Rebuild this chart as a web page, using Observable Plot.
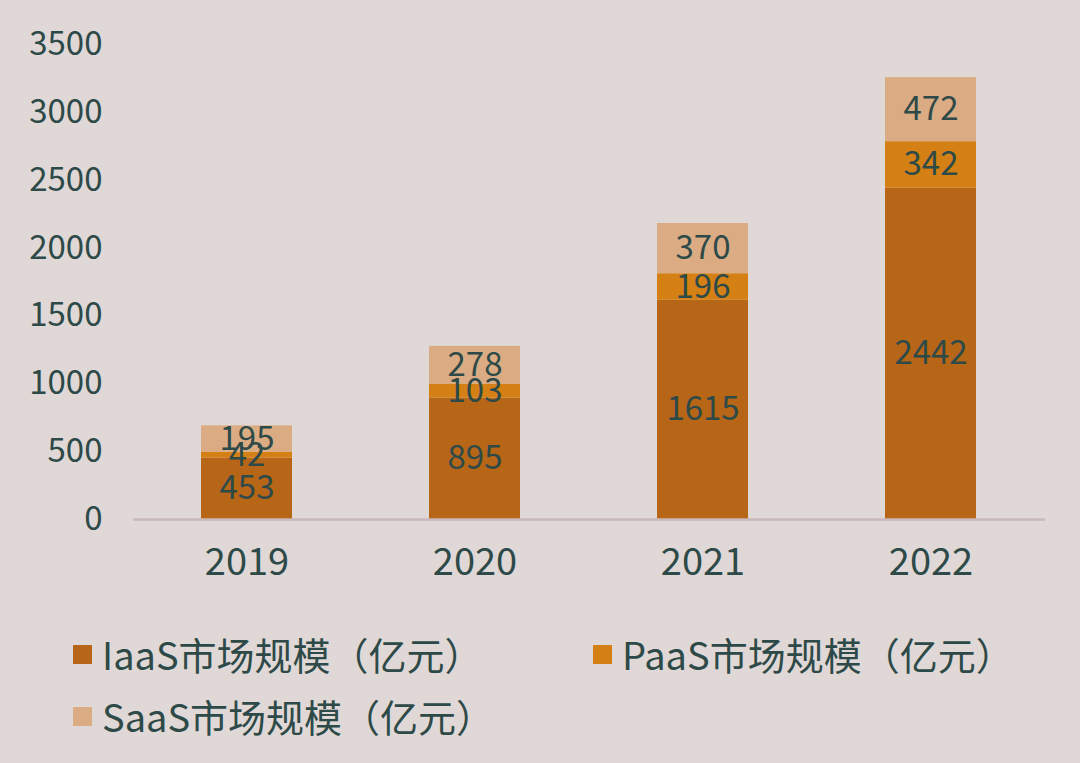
<!DOCTYPE html>
<html>
<head>
<meta charset="utf-8">
<script src="https://cdn.jsdelivr.net/npm/d3@7"></script>
<script src="https://cdn.jsdelivr.net/npm/@observablehq/plot@0.6"></script>
<style>
  html, body { margin: 0; padding: 0; background: #e0d8d6; }
  body { width: 1080px; height: 763px; overflow: hidden; font-family: "Noto Sans CJK SC", "Noto Sans", sans-serif; color: #2e4a48; }
  #chart { position: absolute; left: 0; top: 0; }
  #legend { position: absolute; left: 0; top: 600px; width: 1080px; }
  .item { position: absolute; display: flex; align-items: center; font-size: 38px; line-height: 1; white-space: nowrap; }
  .sw { width: 19px; height: 19px; margin-right: 10px; flex: none; }
</style>
</head>
<body>
<div id="chart"></div>
<div id="legend"></div>
<script>
const years = ["2019", "2020", "2021", "2022"];
const iaasValues = [453, 895, 1615, 2442];
const paasValues = [42, 103, 196, 342];
const saasValues = [195, 278, 370, 472];
const seriesNames = ["IaaS市场规模（亿元）", "PaaS市场规模（亿元）", "SaaS市场规模（亿元）"];
const seriesColors = ["#b76517", "#d58014", "#dbac84"];
const yTicks = [0, 500, 1000, 1500, 2000, 2500, 3000, 3500];

const seriesValues = [iaasValues, paasValues, saasValues];
const data = [];
seriesNames.forEach((s, i) => {
  years.forEach((y, j) => data.push({year: y, series: s, value: seriesValues[i][j]}));
});

const textColor = "#2e4a48";

const chart = Plot.plot({
  width: 1080,
  height: 600,
  marginTop: 44,
  marginBottom: 81,
  marginLeft: 133,
  marginRight: 35,
  style: {background: "transparent", fontFamily: "'Noto Sans CJK SC', 'Noto Sans', sans-serif", color: textColor},
  x: {domain: years, paddingInner: 0.6, paddingOuter: 0.3, label: null, axis: null},
  y: {domain: [0, 3500], label: null, axis: null},
  color: {domain: seriesNames, range: seriesColors},
  marks: [
    Plot.axisY({ticks: yTicks, tickFormat: d => String(d), tickSize: 0, tickPadding: 31, fontSize: 33, label: null, fill: textColor}),
    Plot.axisX({tickSize: 0, tickPadding: 29, fontSize: 38, label: null, fill: textColor}),
    Plot.barY(data, Plot.stackY({x: "year", y: "value", z: "series", fill: "series", order: seriesNames})),
    Plot.ruleY([0], {stroke: "#c9b9ba", strokeWidth: 2.5}),
    Plot.text(data, Plot.stackY({x: "year", y: "value", z: "series", order: seriesNames, text: d => String(d.value), fill: textColor, fontSize: 33}))
  ]
});
document.getElementById("chart").appendChild(chart);

const legend = document.getElementById("legend");
const positions = [[73, 54], [593, 54], [73, 116]];
seriesNames.forEach((name, i) => {
  const item = document.createElement("div");
  item.className = "item";
  item.style.left = positions[i][0] + "px";
  item.style.top = (positions[i][1] - 20) + "px";
  item.style.height = "40px";
  const sw = document.createElement("span");
  sw.className = "sw";
  sw.style.background = seriesColors[i];
  const label = document.createElement("span");
  label.textContent = name;
  item.appendChild(sw);
  item.appendChild(label);
  legend.appendChild(item);
});
</script>
</body>
</html>
